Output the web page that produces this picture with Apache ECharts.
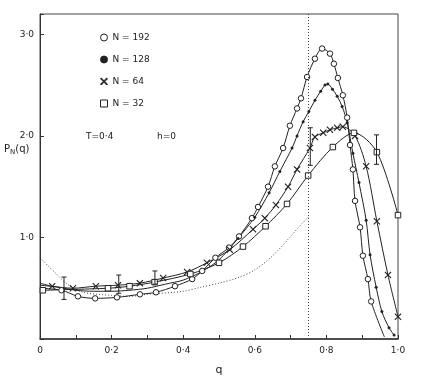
<!DOCTYPE html>
<html>
<head>
<meta charset="utf-8">
<script src="https://cdn.jsdelivr.net/npm/echarts@6/dist/echarts.min.js"></script>
<style>
  html, body { margin: 0; padding: 0; background: #fff; }
  #container { width: 436px; height: 381px; }
</style>
</head>
<body>
<div id="container"></div>
<script>
var dom = document.getElementById("container");
var myChart = echarts.init(dom);

// N = 192 (open circles)
var q192 = [0.00, 0.06, 0.106, 0.154, 0.215, 0.279, 0.324, 0.377, 0.425, 0.453, 0.49, 0.528, 0.556, 0.592, 0.609, 0.637, 0.656, 0.679, 0.698, 0.718, 0.729, 0.746, 0.768, 0.788, 0.810, 0.821, 0.832, 0.846, 0.858, 0.866, 0.874, 0.880, 0.894, 0.902, 0.916, 0.925, 0.962];
var p192 = [0.50, 0.48, 0.42, 0.40, 0.41, 0.44, 0.46, 0.52, 0.59, 0.67, 0.80, 0.90, 1.01, 1.19, 1.30, 1.50, 1.70, 1.88, 2.10, 2.27, 2.37, 2.58, 2.76, 2.86, 2.81, 2.71, 2.57, 2.40, 2.18, 1.91, 1.67, 1.36, 1.10, 0.82, 0.59, 0.37, 0.02];

// N = 128 (filled dots)
var q128 = [0.00, 0.05, 0.10, 0.15, 0.20, 0.25, 0.30, 0.35, 0.40, 0.45, 0.50, 0.553, 0.60, 0.640, 0.670, 0.704, 0.718, 0.735, 0.751, 0.768, 0.784, 0.796, 0.804, 0.817, 0.830, 0.844, 0.858, 0.874, 0.891, 0.911, 0.922, 0.939, 0.955, 0.975, 0.989];
var p128 = [0.53, 0.51, 0.48, 0.47, 0.47, 0.48, 0.50, 0.54, 0.58, 0.66, 0.78, 0.99, 1.20, 1.44, 1.65, 1.88, 2.00, 2.14, 2.24, 2.35, 2.44, 2.50, 2.51, 2.46, 2.39, 2.29, 2.13, 1.83, 1.54, 1.17, 0.83, 0.51, 0.27, 0.11, 0.04];

// N = 64 (crosses)
var q64 = [0.00, 0.034, 0.092, 0.156, 0.218, 0.279, 0.344, 0.411, 0.466, 0.53, 0.595, 0.628, 0.659, 0.693, 0.718, 0.754, 0.768, 0.791, 0.810, 0.830, 0.846, 0.880, 0.911, 0.941, 0.972, 1.00];
var p64 = [0.55, 0.52, 0.50, 0.52, 0.53, 0.55, 0.60, 0.66, 0.75, 0.88, 1.08, 1.19, 1.32, 1.50, 1.67, 1.88, 1.99, 2.03, 2.06, 2.08, 2.09, 2.00, 1.70, 1.16, 0.63, 0.22];

// N = 32 (open squares)
var q32 = [0.008, 0.19, 0.25, 0.32, 0.42, 0.50, 0.567, 0.63, 0.69, 0.749, 0.818, 0.877, 0.941, 1.00];
var p32 = [0.48, 0.50, 0.52, 0.56, 0.64, 0.75, 0.91, 1.11, 1.33, 1.61, 1.89, 2.03, 1.84, 1.22];

// dotted reference curve
var qDot = [0.00, 0.04, 0.08, 0.12, 0.20, 0.25, 0.30, 0.40, 0.45, 0.50, 0.55, 0.60, 0.65, 0.70, 0.73, 0.75];
var pDot = [0.80, 0.66, 0.53, 0.46, 0.43, 0.42, 0.44, 0.47, 0.51, 0.55, 0.60, 0.68, 0.82, 1.01, 1.13, 1.20];

// error bars: q, low, high
var errQ = [0.067, 0.22, 0.321, 0.755, 0.94];
var errLow = [0.39, 0.45, 0.54, 1.71, 1.72];
var errHigh = [0.61, 0.63, 0.67, 2.08, 2.01];

var qLine = 0.75;
var xTicks = [0, 0.2, 0.4, 0.6, 0.8, 1.0];
var yTicks = [1, 2, 3];

var ink = '#222';
var font = 'DejaVu Sans';
var crossPath = 'path://M0,1.1L1.1,0L5,3.9L8.9,0L10,1.1L6.1,5L10,8.9L8.9,10L5,6.1L1.1,10L0,8.9L3.9,5Z';

function pairs(qs, ps, bare) {
    return qs.map(function (q, i) {
        if (bare && bare.indexOf(i) >= 0) {
            return { value: [q, ps[i]], symbol: 'none' };
        }
        return [q, ps[i]];
    });
}

function fmt(v) {
    return v === 0 ? '0' : v.toFixed(1).replace('.', '·');
}

function curve(name, data, symbol, size, fill, border) {
    return {
        name: name,
        type: 'line',
        data: data,
        smooth: 0.3,
        symbol: symbol,
        symbolSize: size,
        showAllSymbol: true,
        lineStyle: { color: ink, width: 1 },
        itemStyle: { color: fill, borderColor: ink, borderWidth: border },
        z: 3
    };
}

option = {
    backgroundColor: '#fff',
    animation: false,
    textStyle: { fontFamily: font },
    grid: {
        left: 40,
        right: 38,
        top: 14,
        bottom: 41,
        show: true,
        borderColor: '#444',
        borderWidth: 1
    },
    legend: {
        orient: 'vertical',
        left: 95,
        top: 28,
        itemWidth: 7,
        itemHeight: 7,
        itemGap: 13,
        itemStyle: { borderWidth: 1 },
        textStyle: { fontSize: 9, color: ink, fontFamily: font },
        data: [
            { name: 'N = 192', icon: 'circle' },
            { name: 'N = 128', icon: 'circle' },
            { name: 'N = 64', icon: crossPath },
            { name: 'N = 32', icon: 'rect' }
        ]
    },
    xAxis: {
        type: 'value',
        min: 0,
        max: 1,
        interval: 0.1,
        name: 'q',
        nameLocation: 'middle',
        nameGap: 26,
        nameTextStyle: { fontSize: 11, color: ink, fontFamily: font },
        axisLine: { lineStyle: { color: '#333', width: 1.5 } },
        axisTick: { inside: true, length: 4, lineStyle: { color: '#333' } },
        splitLine: { show: false },
        axisLabel: {
            fontSize: 9,
            color: ink,
            margin: 7,
            formatter: function (v) {
                var r = Math.round(v * 10) / 10;
                return xTicks.indexOf(r) >= 0 ? fmt(r) : '';
            }
        }
    },
    yAxis: {
        type: 'value',
        min: 0,
        max: 3.2,
        interval: 1,
        axisLine: { show: true, lineStyle: { color: '#333' } },
        axisTick: { inside: true, length: 4, lineStyle: { color: '#333' } },
        splitLine: { show: false },
        axisLabel: {
            fontSize: 9,
            color: ink,
            margin: 6,
            formatter: function (v) {
                return yTicks.indexOf(v) >= 0 ? fmt(v) : '';
            }
        }
    },
    graphic: [
        {
            type: 'text',
            left: 4,
            top: 144,
            style: {
                text: 'P{s|N}(q)',
                fontSize: 10,
                fill: ink,
                fontFamily: font,
                rich: { s: { fontSize: 7, padding: [6, 0, 0, 0], fontFamily: font } }
            }
        },
        {
            type: 'text',
            left: 86,
            top: 132,
            style: { text: 'T=0·4', fontSize: 9, fill: ink, fontFamily: font }
        },
        {
            type: 'text',
            left: 157,
            top: 132,
            style: { text: 'h=0', fontSize: 9, fill: ink, fontFamily: font }
        }
    ],
    series: [
        {
            type: 'line',
            data: pairs(qDot, pDot),
            smooth: 0.3,
            symbol: 'none',
            lineStyle: { color: '#444', width: 1, type: [1, 2] },
            z: 1,
            markLine: {
                silent: true,
                symbol: ['none', 'none'],
                label: { show: false },
                lineStyle: { color: '#444', width: 1, type: [1, 2] },
                data: [{ xAxis: qLine }]
            }
        },
        curve('N = 192', pairs(q192, p192, [0, q192.length - 1]), 'circle', 5.5, '#fff', 1),
        curve('N = 128', pairs(q128, p128, [0, 1, 2, 3, 4, 5, 6, 7, 8, 9, 10]), 'circle', 3, ink, 0),
        curve('N = 64', pairs(q64, p64, [0]), crossPath, 7, ink, 0),
        curve('N = 32', pairs(q32, p32), 'rect', 5.5, '#fff', 1),
        {
            type: 'custom',
            data: errQ.map(function (q, i) { return [q, errLow[i], errHigh[i]]; }),
            renderItem: function (params, api) {
                var lo = api.coord([api.value(0), api.value(1)]);
                var hi = api.coord([api.value(0), api.value(2)]);
                var w = 2.5;
                var st = { stroke: ink, lineWidth: 1 };
                return {
                    type: 'group',
                    children: [
                        { type: 'line', shape: { x1: lo[0], y1: lo[1], x2: hi[0], y2: hi[1] }, style: st },
                        { type: 'line', shape: { x1: lo[0] - w, y1: lo[1], x2: lo[0] + w, y2: lo[1] }, style: st },
                        { type: 'line', shape: { x1: hi[0] - w, y1: hi[1], x2: hi[0] + w, y2: hi[1] }, style: st }
                    ]
                };
            },
            z: 4
        }
    ]
};

if (option && typeof option === "object") {
    myChart.setOption(option, true);
}
</script>
</body>
</html>
